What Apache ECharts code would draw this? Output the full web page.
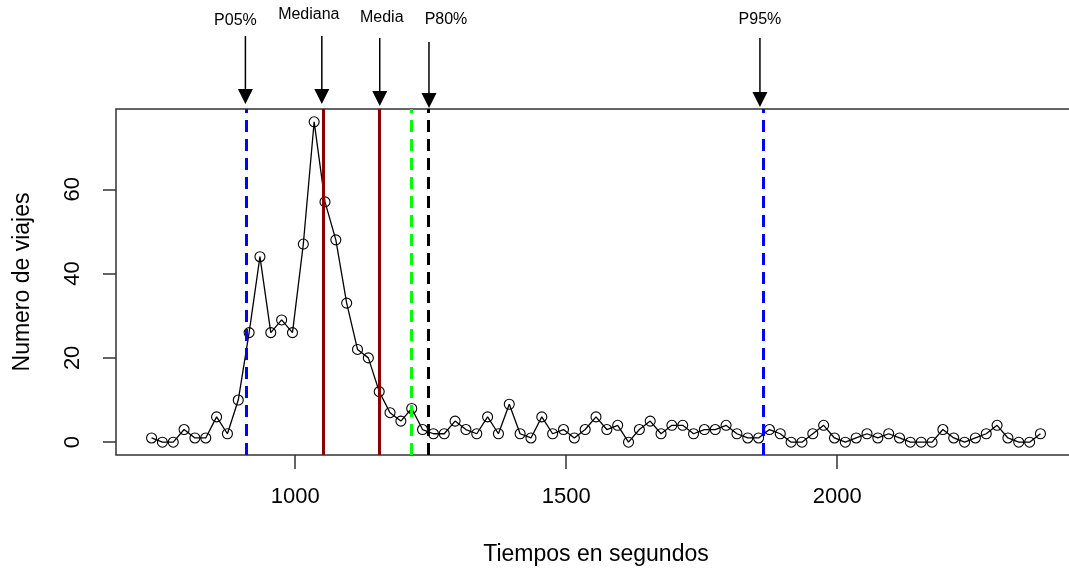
<!DOCTYPE html>
<html>
<head>
<meta charset="utf-8">
<script src="https://cdn.jsdelivr.net/npm/echarts@6/dist/echarts.min.js"></script>
<style>
  html, body { margin: 0; padding: 0; background: #ffffff; }
  #chart { width: 1069px; height: 568px; }
</style>
</head>
<body>
<div id="chart"></div>
<script>
// Trip duration (seconds, bin centres) and number of trips in each bin
const tiempos = [
  735, 755, 775, 795, 815, 835, 855, 875, 895, 915,
  935, 955, 975, 995, 1015, 1035, 1055, 1075, 1095, 1115,
  1135, 1155, 1175, 1195, 1215, 1235, 1255, 1275, 1295, 1315,
  1335, 1355, 1375, 1395, 1415, 1435, 1455, 1475, 1495, 1515,
  1535, 1555, 1575, 1595, 1615, 1635, 1655, 1675, 1695, 1715,
  1735, 1755, 1775, 1795, 1815, 1835, 1855, 1875, 1895, 1915,
  1935, 1955, 1975, 1995, 2015, 2035, 2055, 2075, 2095, 2115,
  2135, 2155, 2175, 2195, 2215, 2235, 2255, 2275, 2295, 2315,
  2335, 2355, 2375
];
const viajes = [
  1, 0, 0, 3, 1, 1, 6, 2, 10, 26,
  44, 26, 29, 26, 47, 76, 57, 48, 33, 22,
  20, 12, 7, 5, 8, 3, 2, 2, 5, 3,
  2, 6, 2, 9, 2, 1, 6, 2, 3, 1,
  3, 6, 3, 4, 0, 3, 5, 2, 4, 4,
  2, 3, 3, 4, 2, 1, 1, 3, 2, 0,
  0, 2, 4, 1, 0, 1, 2, 1, 2, 1,
  0, 0, 0, 3, 1, 0, 1, 2, 4, 1,
  0, 0, 2
];

// Axis ticks
const xTicks = [1000, 1500, 2000];
const yTicks = [0, 20, 40, 60];

// Reference values drawn as vertical lines across the plot
const refValues = [910, 1051, 1156, 1214, 1245, 1863];
const refColors = ['#0000ff', '#8b0000', '#8b0000', '#00ff00', '#000000', '#0000ff'];
const refDashed = [true, false, false, true, true, true];

// Labelled arrows above the plot
const arrowLabels = ['P05%', 'Mediana', 'Media', 'P80%', 'P95%'];
const arrowValues = [910, 1051, 1156, 1245, 1863];

// Arrow drawing layout (pixel offsets / heights)
const arrowLayout = [
  { dx: -1, labelDx: -11, labelY: 21, top: 36, tip: 104 },
  { dx: -1, labelDx: -14, labelY: 15, top: 36, tip: 104 },
  { dx: 0,  labelDx: 2,   labelY: 18, top: 38, tip: 106 },
  { dx: 1,  labelDx: 18,  labelY: 20, top: 42, tip: 108 },
  { dx: -3, labelDx: -3,  labelY: 20, top: 38, tip: 107 }
];

const FONT = 'Liberation Sans, Arial, sans-serif';
const AXIS_COLOR = '#333333';
const TICK_FONT = 22;
const TITLE_FONT = 23;

const chart = echarts.init(document.getElementById('chart'), null, { renderer: 'canvas' });

const option = {
  animation: false,
  backgroundColor: '#ffffff',
  textStyle: { fontFamily: FONT },
  grid: {
    left: 116, right: -7, top: 109, bottom: 113,
    outerBoundsMode: 'none',
    containLabel: false,
    show: true, borderColor: AXIS_COLOR, borderWidth: 1.5,
    backgroundColor: 'transparent'
  },
  xAxis: {
    type: 'value',
    min: 669.4, max: 2440.6,
    axisLine: { show: false, onZero: false },
    splitLine: { show: false },
    axisTick: {
      show: true, inside: false, length: 14,
      customValues: xTicks,
      lineStyle: { color: AXIS_COLOR, width: 1.5 }
    },
    axisLabel: {
      customValues: xTicks,
      formatter: v => String(v),
      margin: 31, fontSize: TICK_FONT, color: '#000', fontFamily: FONT
    },
    name: 'Tiempos en segundos',
    nameLocation: 'middle',
    nameGap: 88,
    nameTextStyle: { fontSize: TITLE_FONT, color: '#000', fontFamily: FONT }
  },
  yAxis: {
    type: 'value',
    min: -3.04, max: 79.04,
    axisLine: { show: false, onZero: false },
    splitLine: { show: false },
    axisTick: {
      show: true, inside: false, length: 13,
      customValues: yTicks,
      lineStyle: { color: AXIS_COLOR, width: 1.5 }
    },
    axisLabel: {
      customValues: yTicks,
      formatter: v => String(v),
      rotate: 90,
      margin: 32, fontSize: TICK_FONT, color: '#000', fontFamily: FONT
    },
    name: 'Numero de viajes',
    nameLocation: 'middle',
    nameGap: 82,
    nameTextStyle: { fontSize: TITLE_FONT, color: '#000', fontFamily: FONT }
  },
  series: [{
    type: 'line',
    data: tiempos.map((t, i) => [t, viajes[i]]),
    symbol: 'circle',
    symbolSize: 10,
    showAllSymbol: true,
    lineStyle: { color: '#000', width: 1.3 },
    itemStyle: { color: 'rgba(0,0,0,0)', borderColor: '#000', borderWidth: 1.1 },
    emphasis: { disabled: true },
    markLine: {
      silent: true,
      symbol: ['none', 'none'],
      label: { show: false },
      data: refValues.map((v, i) => ({
        xAxis: v,
        lineStyle: {
          color: refColors[i],
          width: 3,
          type: refDashed[i] ? [12, 7] : 'solid'
        }
      }))
    }
  }]
};

chart.setOption(option);

// Arrows with labels placed above the plotting area
const graphics = [];
arrowValues.forEach((v, i) => {
  const L = arrowLayout[i];
  const px = chart.convertToPixel({ xAxisIndex: 0 }, v);
  const x = px + L.dx;
  const headH = 15, headW = 15;
  graphics.push({
    type: 'line',
    shape: { x1: x, y1: L.top, x2: x, y2: L.tip - headH + 1 },
    style: { stroke: '#000', lineWidth: 1.5 },
    silent: true
  });
  graphics.push({
    type: 'polygon',
    shape: { points: [[x - headW / 2, L.tip - headH], [x + headW / 2, L.tip - headH], [x, L.tip]] },
    style: { fill: '#000' },
    silent: true
  });
  graphics.push({
    type: 'text',
    x: px + L.labelDx,
    y: L.labelY,
    style: {
      text: arrowLabels[i],
      fontSize: 16,
      fontFamily: FONT,
      fill: '#000',
      align: 'center',
      verticalAlign: 'middle'
    },
    silent: true
  });
});
chart.setOption({ graphic: graphics });
</script>
</body>
</html>
